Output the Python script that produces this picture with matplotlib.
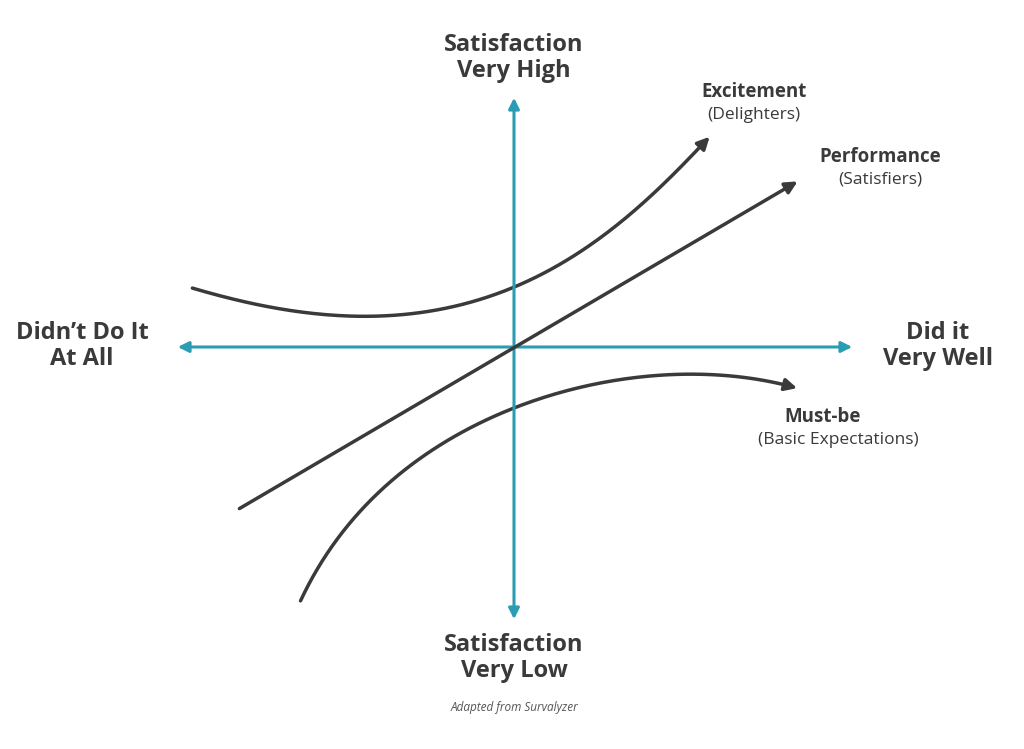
import matplotlib
matplotlib.use("Agg")
import matplotlib.pyplot as plt
import numpy as np

plt.rcParams['font.family'] = ['Open Sans', 'DejaVu Sans']

# data (pixel-space coordinates of the conceptual diagram)
excite_x = [192, 260, 340, 420, 514, 600, 660, 712]
excite_y = [288, 305, 316, 312, 287, 240, 185, 135]
perf_x = [237, 800]
perf_y = [510, 180]
must_x = [300, 340, 400, 514, 600, 700, 760, 800]
must_y = [600, 540, 470, 408, 385, 374, 378, 390]

teal = '#2a9db5'
dark = '#3a3a3a'

fig = plt.figure(figsize=(10.24, 7.49), dpi=100)
ax = fig.add_axes([0, 0, 1, 1])
ax.set_xlim(0, 1024)
ax.set_ylim(749, 0)
ax.axis('off')

# axes arrows
ax.annotate('', xy=(175, 347), xytext=(855, 347),
            arrowprops=dict(arrowstyle='<|-|>', color=teal, lw=2.2, mutation_scale=16))
ax.annotate('', xy=(514, 95), xytext=(514, 622),
            arrowprops=dict(arrowstyle='<|-|>', color=teal, lw=2.2, mutation_scale=16))

def curve(xs, ys):
    from scipy_free_spline import spline  # placeholder not used
    return xs, ys

def smooth(xs, ys, n=200):
    xs = np.asarray(xs, float); ys = np.asarray(ys, float)
    t = np.r_[0, np.cumsum(np.hypot(np.diff(xs), np.diff(ys)))]
    tt = np.linspace(0, t[-1], n)
    # Catmull-Rom style via cubic polynomial fit per parameter
    px = np.polyfit(t, xs, 4); py = np.polyfit(t, ys, 4)
    return np.polyval(px, tt), np.polyval(py, tt)

for xs, ys in [(excite_x, excite_y), (must_x, must_y)]:
    sx, sy = smooth(xs, ys)
    ax.plot(sx[:-3], sy[:-3], color=dark, lw=2.5, solid_capstyle='round')
    ax.annotate('', xy=(sx[-1], sy[-1]), xytext=(sx[-6], sy[-6]),
                arrowprops=dict(arrowstyle='-|>', color=dark, lw=2.5, mutation_scale=18))

ax.annotate('', xy=(perf_x[1], perf_y[1]), xytext=(perf_x[0], perf_y[0]),
            arrowprops=dict(arrowstyle='-|>', color=dark, lw=2.5, mutation_scale=18))

bold = dict(color=dark, fontweight='bold', fontsize=17, ha='center', va='center', linespacing=1.1)
ax.text(514, 58, 'Satisfaction\nVery High', **bold)
ax.text(514, 658, 'Satisfaction\nVery Low', **bold)
ax.text(82, 346, 'Didn\u2019t Do It\nAt All', **bold)
ax.text(938, 346, 'Did it\nVery Well', **bold)

ax.text(754, 92, 'Excitement', color=dark, fontweight='bold', fontsize=13.5, ha='center', va='center')
ax.text(754, 115, '(Delighters)', color=dark, fontsize=12.5, ha='center', va='center')
ax.text(880, 157, 'Performance', color=dark, fontweight='bold', fontsize=13.5, ha='center', va='center')
ax.text(880, 180, '(Satisfiers)', color=dark, fontsize=12.5, ha='center', va='center')
ax.text(823, 417, 'Must-be', color=dark, fontweight='bold', fontsize=13.5, ha='center', va='center')
ax.text(838, 440, '(Basic Expectations)', color=dark, fontsize=12.5, ha='center', va='center')

ax.text(515, 708, 'Adapted from Survalyzer', color='#555555', fontsize=8.5, style='italic',
        ha='center', va='center')

fig.savefig('out.png', dpi=100, facecolor='white')
